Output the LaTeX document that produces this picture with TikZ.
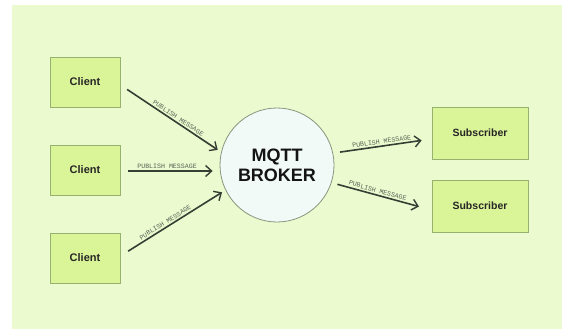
\documentclass[tikz,border=0pt]{standalone}
\usepackage{fontspec}
\setmainfont{Liberation Sans}
\newfontfamily\monofont{Liberation Mono}
\usetikzlibrary{arrows.meta}
\definecolor{bggreen}{RGB}{236,250,208}
\definecolor{boxfill}{RGB}{218,244,152}
\definecolor{boxline}{RGB}{150,178,110}
\definecolor{circfill}{RGB}{242,250,248}
\definecolor{circline}{RGB}{135,150,125}
\definecolor{arrcol}{RGB}{55,62,52}
\definecolor{lblcol}{RGB}{90,100,85}
\tikzset{
  clientbox/.style={draw=boxline, line width=0.9pt, fill=boxfill, minimum width=70pt, minimum height=50pt, inner sep=0pt, font=\fontsize{11}{12}\selectfont\bfseries, text=black!85},
  subbox/.style={draw=boxline, line width=0.9pt, fill=boxfill, minimum width=96pt, minimum height=52pt, inner sep=0pt, font=\fontsize{10.5}{12}\selectfont\bfseries, text=black!85},
  brokernode/.style={circle, draw=circline, line width=0.8pt, fill=circfill, minimum size=114pt, inner sep=0pt, align=center, font=\fontsize{18}{20}\selectfont\bfseries, text=black!92},
  msgarrow/.style={draw=arrcol, line width=1.6pt, -{Straight Barb[length=6pt,width=11pt,line width=1.4pt]}},
  msglabel/.style={sloped, above, inner sep=1.5pt, font=\monofont\fontsize{6.6}{7}\selectfont, text=lblcol}
}
\begin{document}
\begin{tikzpicture}[x=1pt,y=-1pt]
\useasboundingbox (0,0) rectangle (562,329);
\fill[white] (0,0) rectangle (562,329);
\fill[bggreen] (12,5) rectangle (562,329);

\node[clientbox] (c1) at (85,82) {Client};
\node[clientbox] (c2) at (85,170) {Client};
\node[clientbox] (c3) at (85,258) {Client};
\node[brokernode] (broker) at (277,165) {MQTT\\BROKER};
\node[subbox] (s1) at (480,133) {Subscriber};
\node[subbox] (s2) at (480,206) {Subscriber};

\draw[msgarrow, shorten <=8pt, shorten >=4pt] ([yshift=-3pt]c1.east) -- (broker.167) node[msglabel, pos=0.55] {PUBLISH MESSAGE};
\draw[msgarrow, shorten <=8pt, shorten >=7pt] ([yshift=-1pt]c2.east) -- ([yshift=-1pt]c2.east -| broker.west) node[msglabel, pos=0.47] {PUBLISH MESSAGE};
\draw[msgarrow, shorten <=9pt, shorten >=4pt] ([yshift=2pt]c3.east) -- (broker.206) node[msglabel, pos=0.45] {PUBLISH MESSAGE};
\draw[msgarrow, shorten <=7pt, shorten >=10pt] (broker.12) -- ([yshift=-6pt]s1.west) node[msglabel, pos=0.5] {PUBLISH MESSAGE};
\draw[msgarrow, shorten <=6pt, shorten >=13pt] (broker.-18) -- ([yshift=-4pt]s2.west) node[msglabel, pos=0.45] {PUBLISH MESSAGE};
\end{tikzpicture}
\end{document}
